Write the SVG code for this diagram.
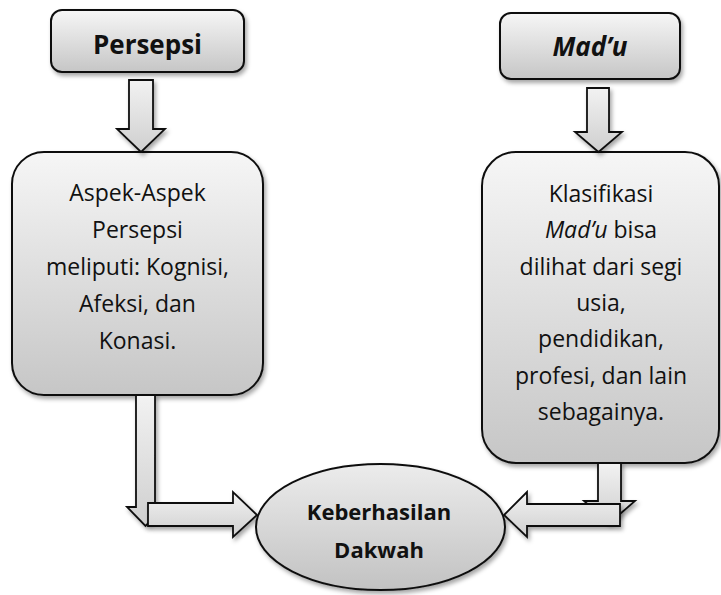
<svg xmlns="http://www.w3.org/2000/svg" width="721" height="595" viewBox="0 0 721 595">
<defs>
<linearGradient id="gBox" x1="0" y1="0" x2="0" y2="1">
<stop offset="0" stop-color="#f6f6f6"/>
<stop offset="1" stop-color="#c6c6c6"/>
</linearGradient>
<linearGradient id="gEll" x1="0" y1="0" x2="0" y2="1">
<stop offset="0" stop-color="#ececec"/>
<stop offset="1" stop-color="#c2c2c2"/>
</linearGradient>
<linearGradient id="gArr" x1="0" y1="0" x2="0" y2="1">
<stop offset="0" stop-color="#f2f2f2"/>
<stop offset="1" stop-color="#cfcfcf"/>
</linearGradient>
<filter id="sh" x="-10%" y="-10%" width="130%" height="130%">
<feDropShadow dx="2" dy="3" stdDeviation="2" flood-color="#000" flood-opacity="0.35"/>
</filter>
<style>
.box{fill:url(#gBox);stroke:#111;stroke-width:2;filter:url(#sh)}
.ell{fill:url(#gEll);stroke:#111;stroke-width:2;filter:url(#sh)}
.arr{fill:url(#gArr);stroke:#111;stroke-width:1.8;stroke-linejoin:miter;filter:url(#sh)}
.t{font-family:"Open Sans","Noto Sans","Liberation Sans",sans-serif;fill:#111;text-anchor:middle}
.title{font-size:26px;font-weight:bold}
.body{font-size:23px}
.ov{font-size:22px;font-weight:bold}
</style>
</defs>

<g id="node-persepsi">
<rect class="box" x="51" y="10" width="193" height="62" rx="11"/>
<text class="t title" x="147.5" y="54">Persepsi</text>
</g>

<g id="node-madu">
<rect class="box" x="500" y="13" width="180" height="66" rx="11"/>
<text class="t title" x="590" y="56" font-style="italic">Mad’u</text>
</g>

<g id="node-aspek">
<rect class="box" x="12" y="152" width="251" height="243" rx="32"/>
<text class="t body" x="137.5" y="201">Aspek-Aspek</text>
<text class="t body" x="137.5" y="238">Persepsi</text>
<text class="t body" x="137.5" y="275">meliputi: Kognisi,</text>
<text class="t body" x="137.5" y="312">Afeksi, dan</text>
<text class="t body" x="137.5" y="349">Konasi.</text>
</g>

<g id="node-klasifikasi">
<rect class="box" x="482" y="152" width="237" height="311" rx="34"/>
<text class="t body" x="601" y="202">Klasifikasi</text>
<text class="t body" x="601" y="238"><tspan font-style="italic">Mad’u</tspan> bisa</text>
<text class="t body" x="601" y="275">dilihat dari segi</text>
<text class="t body" x="601" y="311">usia,</text>
<text class="t body" x="601" y="347">pendidikan,</text>
<text class="t body" x="601" y="384">profesi, dan lain</text>
<text class="t body" x="601" y="420">sebagainya.</text>
</g>

<g id="connectors">
<polygon class="arr" points="129,80 153,80 153,129 165,129 141,152 117,129 129,129"/>
<polygon class="arr" points="587,88 609,88 609,132 622,132 598.5,152 575,132 587,132"/>
<polygon class="arr" points="136,395 155,395 155,507 164,507 145.5,526 127,507 136,507"/>
<polygon class="arr" points="148,503 233,503 233,492 257,515 233,537 233,526 148,526"/>
<polygon class="arr" points="598,463 621,463 621,501 635,501 609.5,523 584,501 598,501"/>
<polygon class="arr" points="620,504 527,504 527,492 504,515 527,537 527,526 620,526"/>
</g>

<g id="node-keberhasilan">
<ellipse class="ell" cx="380.5" cy="527" rx="124.5" ry="63"/>
<text class="t ov" x="379" y="520">Keberhasilan</text>
<text class="t ov" x="379" y="558">Dakwah</text>
</g>
</svg>
